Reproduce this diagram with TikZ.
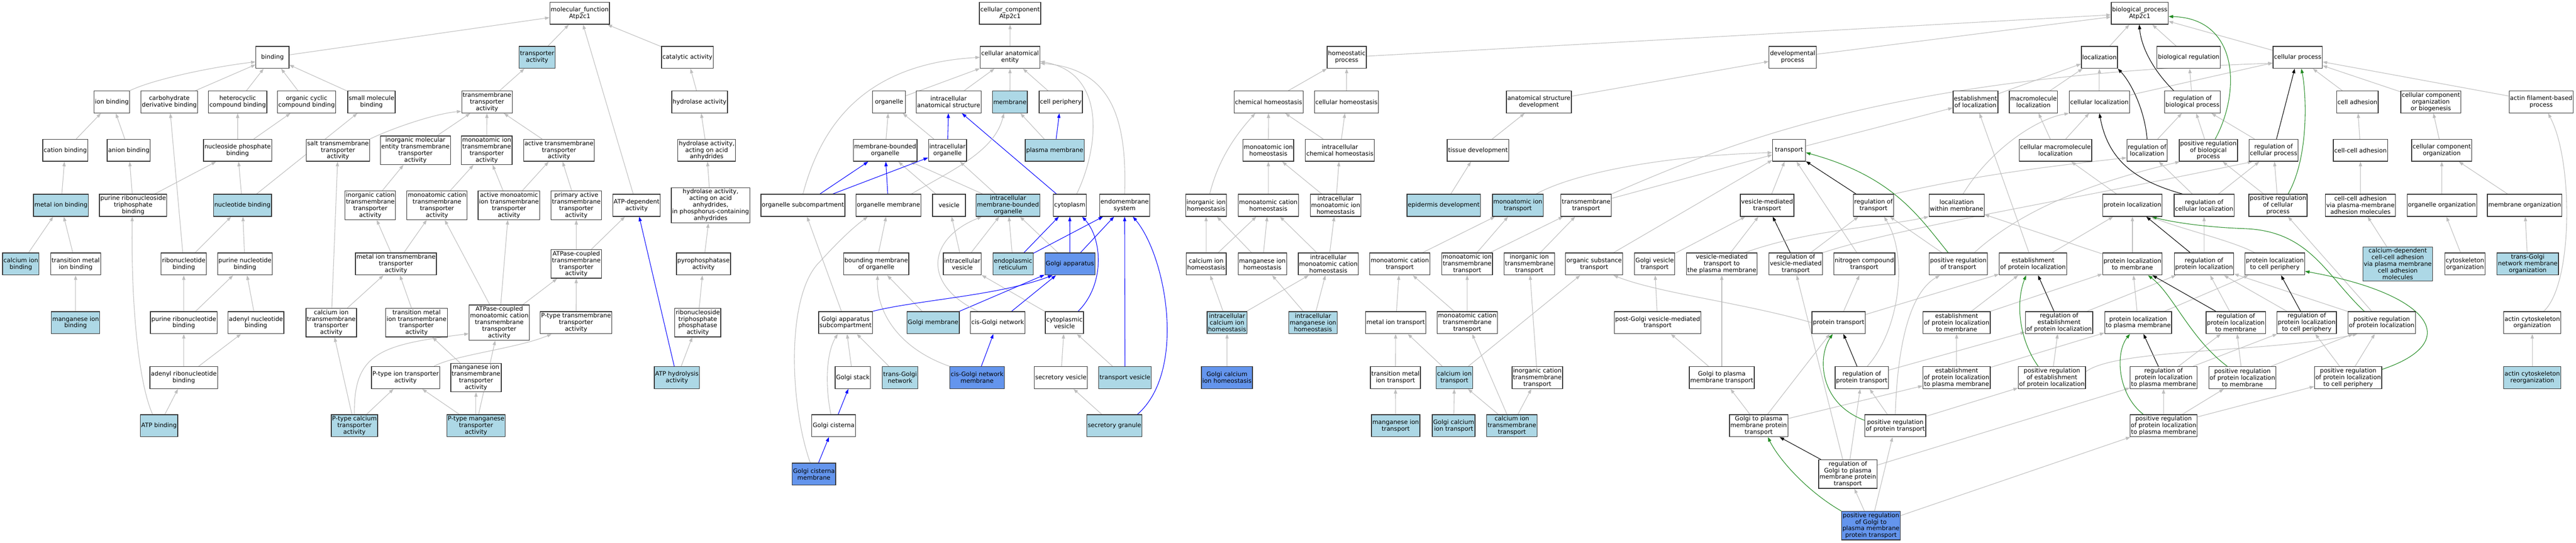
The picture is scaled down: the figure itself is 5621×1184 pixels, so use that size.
\documentclass[tikz,border=0pt]{standalone}
\usepackage{fontspec}
\setmainfont{DejaVu Sans}
\usetikzlibrary{arrows.meta}
\pgfdeclarelayer{bg}
\pgfsetlayers{bg,main}
\definecolor{lb}{HTML}{ADD8E6}
\definecolor{db}{HTML}{6495ED}
\definecolor{eg}{HTML}{BEBEBE}
\definecolor{gr}{HTML}{228B22}
\begin{document}
\begin{tikzpicture}[x=1pt,y=-1pt,
  nb/.style={draw=black!80, line width=1.5pt, fill=white, rectangle, minimum width=72pt, minimum height=48pt, inner xsep=2pt, inner ysep=3pt, align=center, font=\fontsize{13.2}{14.5}\selectfont},
  lbn/.style={nb, fill=lb},
  dbn/.style={nb, fill=db},
  ge/.style={draw=eg, line width=1.2pt, -{Triangle[length=10pt,width=7pt]}},
  be/.style={ge, draw=blue},
  ke/.style={ge, draw=black},
  gre/.style={ge, draw=gr}]
\useasboundingbox (0,0) rectangle (5621,1184);
% ---------------- molecular function
\node[nb] (mf) at (1265,29) {molecular\_function\\Atp2c1};
\node[nb] (bind) at (594.5,125) {binding};
\node[lbn] (ta) at (1172,125) {transporter\\activity};
\node[nb] (cat) at (1500,125) {catalytic activity};
\node[nb] (ionb) at (244,222.5) {ion binding};
\node[nb] (carb) at (369.5,222.5) {carbohydrate\\derivative binding};
\node[nb] (hetb) at (518.6,222.5) {heterocyclic\\compound binding};
\node[nb] (orgb) at (669,222.5) {organic cyclic\\compound binding};
\node[nb] (smb) at (810.6,222.5) {small molecule\\binding};
\node[nb] (tta) at (1062.6,222.5) {transmembrane\\transporter\\activity};
\node[nb] (hyd) at (1526.5,222.5) {hydrolase activity};
\node[nb] (catb) at (142.5,328) {cation binding};
\node[nb] (anb) at (281,328) {anion binding};
\node[nb] (npb) at (518.5,328) {nucleoside phosphate\\binding};
\node[nb] (salt) at (737.5,328) {salt transmembrane\\transporter\\activity};
\node[nb] (imet) at (906.5,328) {inorganic molecular\\entity transmembrane\\transporter\\activity};
\node[nb] (mitta) at (1062,328) {monoatomic ion\\transmembrane\\transporter\\activity};
\node[nb] (atta) at (1219.7,328) {active transmembrane\\transporter\\activity};
\node[nb] (hyda) at (1542,328) {hydrolase activity,\\acting on acid\\anhydrides};
\node[lbn] (mib) at (133,448) {metal ion binding};
\node[nb] (prtb) at (290.5,448) {purine ribonucleoside\\triphosphate\\binding};
\node[lbn] (ntb) at (529,448) {nucleotide binding};
\node[nb] (icta) at (808,448) {inorganic cation\\transmembrane\\transporter\\activity};
\node[nb] (mcta) at (953.5,448) {monoatomic cation\\transmembrane\\transporter\\activity};
\node[nb] (amita) at (1110.6,448) {active monoatomic\\ion transmembrane\\transporter\\activity};
\node[nb] (pata) at (1257.5,448) {primary active\\transmembrane\\transporter\\activity};
\node[nb] (atpd) at (1389,448) {ATP-dependent\\activity};
\node[nb] (hydp) at (1550.5,448) {hydrolase activity,\\acting on acid\\anhydrides,\\in phosphorus-containing\\anhydrides};
\node[nb] (osc) at (1752,448) {organelle subcompartment};
\node[lbn] (cab) at (45.5,576) {calcium ion\\binding};
\node[nb] (tmib) at (165,576) {transition metal\\ion binding};
\node[nb] (rnb) at (401,576) {ribonucleotide\\binding};
\node[nb] (pnb) at (534.5,576) {purine nucleotide\\binding};
\node[nb] (mitra) at (864,576) {metal ion transmembrane\\transporter\\activity};
\node[nb] (actta) at (1257.5,576) {ATPase-coupled\\transmembrane\\transporter\\activity};
\node[nb] (ppa) at (1535,576) {pyrophosphatase\\activity};
\node[lbn] (mnb) at (165,704) {manganese ion\\binding};
\node[nb] (prnb) at (401,704) {purine ribonucleotide\\binding};
\node[nb] (anb2) at (558.5,704) {adenyl nucleotide\\binding};
\node[nb] (cita) at (722.8,704) {calcium ion\\transmembrane\\transporter\\activity};
\node[nb] (tmita) at (909,704) {transition metal\\ion transmembrane\\transporter\\activity};
\node[nb] (amcta) at (1089.4,704) {ATPase-coupled\\monoatomic cation\\transmembrane\\transporter\\activity};
\node[nb] (ptta) at (1257,704) {P-type transmembrane\\transporter\\activity};
\node[nb] (rtpa) at (1522.6,704) {ribonucleoside\\triphosphate\\phosphatase\\activity};
\node[nb] (gas) at (1845,704) {Golgi apparatus\\subcompartment};
\node[nb] (arnb) at (401,824) {adenyl ribonucleotide\\binding};
\node[nb] (pita) at (885,824) {P-type ion transporter\\activity};
\node[nb] (mnta) at (1038.7,824) {manganese ion\\transmembrane\\transporter\\activity};
\node[lbn] (atph) at (1477,824) {ATP hydrolysis\\activity};
\node[nb] (gst) at (1861,824) {Golgi stack};
\node[lbn] (atpb) at (347,929) {ATP binding};
\node[lbn] (ptca) at (773.4,929) {P-type calcium\\transporter\\activity};
\node[lbn] (ptma) at (1038.7,929) {P-type manganese\\transporter\\activity};
\node[nb] (gc) at (1819,929) {Golgi cisterna};
\node[dbn] (gcm) at (1776,1034.5) {Golgi cisterna\\membrane};
% ---------------- cellular component
\node[nb] (cc) at (2204,29) {cellular\_component\\Atp2c1};
\node[nb] (cae) at (2204,125) {cellular anatomical\\entity};
\node[nb] (org) at (1940,222.5) {organelle};
\node[nb] (ias) at (2070,222.5) {intracellular\\anatomical structure};
\node[lbn] (mem) at (2203.6,222.5) {membrane};
\node[nb] (cper) at (2314.6,222.5) {cell periphery};
\node[nb] (mbo) at (1931.4,328) {membrane-bounded\\organelle};
\node[nb] (io) at (2067.5,328) {intracellular\\organelle};
\node[lbn] (pm) at (2301.5,328) {plasma membrane};
\node[nb] (om) at (1938.6,448) {organelle membrane};
\node[nb] (ves) at (2070.8,448) {vesicle};
\node[lbn] (imbo) at (2199.5,448) {intracellular\\membrane-bounded\\organelle};
\node[nb] (cyt) at (2334.3,448) {cytoplasm};
\node[nb] (ems) at (2454,448) {endomembrane\\system};
\node[nb] (bmo) at (1912,576) {bounding membrane\\of organelle};
\node[nb] (iv) at (2099.8,576) {intracellular\\vesicle};
\node[lbn] (er) at (2210.5,576) {endoplasmic\\reticulum};
\node[dbn] (ga) at (2334.6,576) {Golgi apparatus};
\node[lbn] (gm) at (2036,704) {Golgi membrane};
\node[nb] (cgn) at (2177,704) {cis-Golgi network};
\node[nb] (cv) at (2322.6,704) {cytoplasmic\\vesicle};
\node[lbn] (tgn) at (1964,824) {trans-Golgi\\network};
\node[dbn] (cgnm) at (2132,824) {cis-Golgi network\\membrane};
\node[nb] (sv) at (2314.8,824) {secretory vesicle};
\node[lbn] (tv) at (2454.8,824) {transport vesicle};
\node[lbn] (sg) at (2431.8,929) {secretory granule};
% ---------------- homeostasis / transport
\node[nb] (hp) at (2938.6,125) {homeostatic\\process};
\node[nb] (ch) at (2768,222.5) {chemical homeostasis};
\node[nb] (cho) at (2938,222.5) {cellular homeostasis};
\node[nb] (asd) at (3358,222.5) {anatomical structure\\development};
\node[nb] (mih) at (2767.6,328) {monoatomic ion\\homeostasis};
\node[nb] (ich) at (2923.7,328) {intracellular\\chemical homeostasis};
\node[nb] (td) at (3225,328) {tissue development};
\node[nb] (iih) at (2631.7,448) {inorganic ion\\homeostasis};
\node[nb] (mch) at (2767.5,448) {monoatomic cation\\homeostasis};
\node[nb] (imih) at (2914.4,448) {intracellular\\monoatomic ion\\homeostasis};
\node[lbn] (ed) at (3150.3,448) {epidermis development};
\node[lbn] (mit) at (3312,448) {monoatomic ion\\transport};
\node[nb] (tmt) at (3461,448) {transmembrane\\transport};
\node[nb] (cih) at (2632,576) {calcium ion\\homeostasis};
\node[nb] (mnh) at (2754.5,576) {manganese ion\\homeostasis};
\node[nb] (imch) at (2898.5,576) {intracellular\\monoatomic cation\\homeostasis};
\node[nb] (mct) at (3054.3,576) {monoatomic cation\\transport};
\node[nb] (mitt) at (3201.4,576) {monoatomic ion\\transmembrane\\transport};
\node[nb] (iitt) at (3337,576) {inorganic ion\\transmembrane\\transport};
\node[nb] (ost) at (3478.5,576) {organic substance\\transport};
\node[nb] (gvt) at (3610.5,576) {Golgi vesicle\\transport};
\node[lbn] (icih) at (2677.5,704) {intracellular\\calcium ion\\homeostasis};
\node[lbn] (imnh) at (2865,704) {intracellular\\manganese ion\\homeostasis};
\node[nb] (mtr) at (3045.4,704) {metal ion transport};
\node[nb] (mctt) at (3201.6,704) {monoatomic cation\\transmembrane\\transport};
\node[nb] (pgvt) at (3617,704) {post-Golgi vesicle-mediated\\transport};
\node[dbn] (gcih) at (2677.3,824) {Golgi calcium\\ion homeostasis};
\node[nb] (tmit) at (3045,824) {transition metal\\ion transport};
\node[lbn] (cit) at (3173.5,824) {calcium ion\\transport};
\node[nb] (ictt) at (3354.5,824) {inorganic cation\\transmembrane\\transport};
\node[lbn] (mnt) at (3045.4,929) {manganese ion\\transport};
\node[lbn] (gcit) at (3172,929) {Golgi calcium\\ion transport};
\node[lbn] (citt) at (3299,929) {calcium ion\\transmembrane\\transport};
% ---------------- biological process
\node[nb] (bp) at (4669,29) {biological\_process\\Atp2c1};
\node[nb] (dp) at (3911.6,125) {developmental\\process};
\node[nb] (loc) at (4581,125) {localization};
\node[nb] (breg) at (4775.8,125) {biological regulation};
\node[nb] (cp) at (5013.6,125) {cellular process};
\node[nb] (eol) at (4310.6,222.5) {establishment\\of localization};
\node[nb] (ml) at (4437,222.5) {macromolecule\\localization};
\node[nb] (cl) at (4581,222.5) {cellular localization};
\node[nb] (rbp) at (4784,222.5) {regulation of\\biological process};
\node[nb] (cad) at (5144,222.5) {cell adhesion};
\node[nb] (ccob) at (5304.3,222.5) {cellular component\\organization\\or biogenesis};
\node[nb] (afbp) at (5545,222.5) {actin filament-based\\process};
\node[nb] (tr) at (3903.8,328) {transport};
\node[nb] (cml) at (4485,328) {cellular macromolecule\\localization};
\node[nb] (rloc) at (4685,328) {regulation of\\localization};
\node[nb] (prbp) at (4818.7,328) {positive regulation\\of biological\\process};
\node[nb] (rcp) at (4961,328) {regulation of\\cellular process};
\node[nb] (cca) at (5150.7,328) {cell-cell adhesion};
\node[nb] (cco) at (5328,328) {cellular component\\organization};
\node[nb] (vmt) at (3856,448) {vesicle-mediated\\transport};
\node[nb] (rt) at (4088,448) {regulation of\\transport};
\node[nb] (lwm) at (4269.4,448) {localization\\within membrane};
\node[nb] (ploc) at (4653,448) {protein localization};
\node[nb] (rcl) at (4809.5,448) {regulation of\\cellular localization};
\node[nb] (prcp) at (4970.7,448) {positive regulation\\of cellular\\process};
\node[nb] (ccapm) at (5150.6,448) {cell-cell adhesion\\via plasma-membrane\\adhesion molecules};
\node[nb] (oo) at (5328.4,448) {organelle organization};
\node[nb] (mo) at (5509,448) {membrane organization};
\node[nb] (vmtpm) at (3757,576) {vesicle-mediated\\transport to\\the plasma membrane};
\node[nb] (rvmt) at (3918.4,576) {regulation of\\vesicle-mediated\\transport};
\node[nb] (nct) at (4068,576) {nitrogen compound\\transport};
\node[nb] (prt) at (4273,576) {positive regulation\\of transport};
\node[nb] (epl) at (4436,576) {establishment\\of protein localization};
\node[nb] (plm) at (4653,576) {protein localization\\to membrane};
\node[nb] (rpl) at (4809.3,576) {regulation of\\protein localization};
\node[nb] (pl2cp) at (4963.8,576) {protein localization\\to cell periphery};
\node[lbn] (cdca) at (5232,576) {calcium-dependent\\cell-cell adhesion\\via plasma membrane\\cell adhesion\\molecules};
\node[nb] (cso) at (5378.7,576) {cytoskeleton\\organization};
\node[lbn] (tgnmo) at (5515.7,576) {trans-Golgi\\network membrane\\organization};
\node[nb] (pt) at (4012,704) {protein transport};
\node[nb] (eplm) at (4269.4,704) {establishment\\of protein localization\\to membrane};
\node[nb] (repl) at (4493,704) {regulation of\\establishment\\of protein localization};
\node[nb] (plpm) at (4665.6,704) {protein localization\\to plasma membrane};
\node[nb] (rplm) at (4878.6,704) {regulation of\\protein localization\\to membrane};
\node[nb] (rplcp) at (5033.4,704) {regulation of\\protein localization\\to cell periphery};
\node[nb] (prpl) at (5197,704) {positive regulation\\of protein localization};
\node[nb] (aco) at (5525.5,704) {actin cytoskeleton\\organization};
\node[nb] (gpmt) at (3757,824) {Golgi to plasma\\membrane transport};
\node[nb] (rpt) at (4062.5,824) {regulation of\\protein transport};
\node[nb] (eplpm) at (4269.4,824) {establishment\\of protein localization\\to plasma membrane};
\node[nb] (prepl) at (4477.4,824) {positive regulation\\of establishment\\of protein localization};
\node[nb] (rplpm) at (4721,824) {regulation of\\protein localization\\to plasma membrane};
\node[nb] (prplm) at (4893,824) {positive regulation\\of protein localization\\to membrane};
\node[nb] (prplcp) at (5123.8,824) {positive regulation\\of protein localization\\to cell periphery};
\node[lbn] (acr) at (5525.5,824) {actin cytoskeleton\\reorganization};
\node[nb] (gpmpt) at (3837.5,929) {Golgi to plasma\\membrane protein\\transport};
\node[nb] (prpt) at (4135.6,929) {positive regulation\\of protein transport};
\node[nb] (prplpm) at (4721,929) {positive regulation\\of protein localization\\to plasma membrane};
\node[nb] (rgpm) at (4032,1034.5) {regulation of\\Golgi to plasma\\membrane protein\\transport};
\node[dbn] (prgpm) at (4082.6,1147) {positive regulation\\of Golgi to\\plasma membrane\\protein transport};
% ---------------- edges
\begin{pgfonlayer}{bg}
\fill[white] (0,0) rectangle (5621,1184);
\foreach \a/\b in {bind/mf, carb/bind, hetb/bind, orgb/bind, smb/bind, catb/ionb, anb/ionb, rnb/carb, npb/hetb, npb/orgb, ntb/smb, mib/catb, prtb/anb, prtb/npb, ntb/npb, imet/tta, cab/mib, tmib/mib, rnb/ntb, pnb/ntb, icta/imet, mitra/icta, mitra/mcta, cita/salt, mnb/tmib, prnb/rnb, prnb/pnb, anb2/pnb, arnb/prnb, arnb/anb2, atpb/arnb, cita/mitra, tmita/mitra, ptca/cita, ptca/pita, ptma/pita, ta/mf, atpd/mf, cat/mf, tta/ta, hyd/cat, mitta/tta, atta/tta, hyda/hyd, mcta/mitta, amita/mitta, amita/atta, pata/atta, hydp/hyda, actta/pata, actta/atpd, ppa/hydp, amcta/mcta, amcta/amita, amcta/actta, ptta/actta, ptma/amcta, mnta/tmita, ptma/mnta, rtpa/ppa, atph/rtpa}
  \draw[ge] (\a) -- (\b);
\foreach \a/\b in {cae/cc, org/cae, ias/cae, mem/cae, cper/cae, mbo/org, io/org, pm/mem, ves/mbo, imbo/mbo, imbo/io, bmo/om, iv/ves, iv/imbo, er/imbo, ga/imbo, gm/bmo, cv/iv, gst/gas, tgn/gas, sv/cv, tv/cv, sg/sv, gas/osc}
  \draw[ge] (\a) -- (\b);
\foreach \a/\b in {ch/hp, cho/hp, mih/ch, ich/ch, ich/cho, mch/mih, imih/mih, imih/ich, cih/iih, cih/mch, mnh/iih, mnh/mch, imch/mch, imch/imih, icih/cih, icih/imch, imnh/mnh, imnh/imch, gcih/icih, hp/bp, dp/bp, asd/dp, td/asd, ed/td}
  \draw[ge] (\a) -- (\b);
\foreach \a/\b in {tmt/tr, ost/tr, gvt/vmt, mct/mit, mitt/mit, mitt/tmt, iitt/tmt, mtr/mct, mctt/mct, mctt/mitt, cit/ost, ictt/iitt, pgvt/gvt, tmit/mtr, cit/mtr, mnt/tmit, gcit/cit, citt/cit, citt/mctt, citt/ictt, gpmt/pgvt, gpmt/vmtpm}
  \draw[ge] (\a) -- (\b);
\foreach \a/\b in {loc/bp, eol/loc, ml/loc, cl/loc, tr/eol, cml/ml, cml/cl, ploc/cml, vmt/tr, nct/tr, prt/rt, epl/eol, epl/ploc, plm/ploc, plm/lwm, vmtpm/vmt, rvmt/rt, pt/nct, pt/epl, eplm/epl, eplm/plm, repl/rpl, rpt/repl, eplpm/eplm, eplpm/plpm, prepl/repl, gpmpt/gpmt, gpmpt/pt, gpmpt/eplpm, prpt/rpt, prpt/prepl, rgpm/rpt, rgpm/rplpm, prgpm/rgpm, prgpm/prpt, prgpm/prplpm, plpm/plm, plpm/pl2cp, breg/bp, cp/bp, rbp/breg, rloc/rbp, prbp/rbp, rcp/rbp, cad/cp, ccob/cp, afbp/cp, cca/cad, cco/ccob, rcl/rloc, rcl/rcp, prcp/prbp, prcp/rcp, ccapm/cca, oo/cco, mo/cco, rpl/rcl, cdca/ccapm, cso/oo, tgnmo/mo, prpl/prcp, acr/aco, rplm/rpl, rplcp/rpl, prpl/rpl, rplpm/rplm, rplpm/rplcp, prplm/rplm, prplm/prpl, prplcp/rplcp, prplcp/prpl, prplpm/rplpm, prplpm/prplm, prplpm/prplcp, cl/cp}
  \draw[ge] (\a) -- (\b);
\foreach \a/\b in {atph/atpd, io/ias, cyt/ias, pm/cper, om/mbo, osc/mbo, osc/io, er/cyt, er/ems, ga/cyt, ga/ems, tv/ems, gm/ga, cgn/ga, cgnm/cgn, gc/gst, gcm/gc}
  \draw[be] (\a) -- (\b);
\foreach \a/\b in {rt/tr, rvmt/vmt, rcp/cp, rpt/pt, repl/epl, rgpm/gpmpt, rpl/ploc, rplm/plm, rplcp/pl2cp, rplpm/plpm}
  \draw[ke] (\a) -- (\b);
% curved gray
\draw[ge] (ionb.north east) .. controls (330,175) and (450,148) .. (bind.195);
\draw[ge] (salt.north east) .. controls (860,278) and (950,248) .. (tta.200);
\draw[ge] (ptca.north) .. controls (771,770) and (830,752) .. (amcta.200);
\draw[ge] ([shift={(62,0)}]pita.north) .. controls (990,775) and (1130,760) .. ([shift={(-53,0)}]ptta.south);
\draw[ge] ([shift={(-14,0)}]atpb.north) .. controls (300,830) and (286,650) .. ([shift={(-2,0)}]prtb.south);
\draw[ge] (osc.north) .. controls (1790,280) and (1880,140) .. (cae.west);
\draw[ge] ([shift={(15,0)}]cyt.north) .. controls (2395,330) and (2420,160) .. ([shift={(0,9)}]cae.east);
\draw[ge] (ems.north) .. controls (2460,250) and (2420,150) .. ([shift={(0,13)}]cae.east);
\draw[ge] ([shift={(50,0)}]om.north) .. controls (2080,370) and (2170,330) .. ([shift={(-13,0)}]mem.south);
\draw[ge] ([shift={(-43,0)}]cgn.north) .. controls (2010,620) and (2025,520) .. ([shift={(-57,0)}]imbo.south);
\draw[ge] (cgnm.north west) .. controls (1960,760) and (1912,680) .. ([shift={(3,0)}]bmo.south);
\draw[ge] ([shift={(-8,0)}]gcm.north) .. controls (1722,880) and (1715,640) .. (1790,570) .. controls (1840,515) and (1870,490) .. ([shift={(-45,0)}]om.south);
\draw[ge] ([shift={(-6,0)}]gc.north) .. controls (1800,840) and (1803,770) .. ([shift={(-17,0)}]gas.south);
\draw[ge] ([shift={(8,0)}]iih.north) .. controls (2660,340) and (2705,285) .. ([shift={(-29,0)}]ch.south);
\draw[ge] ([shift={(40,0)}]mit.north) .. controls (3430,380) and (3620,340) .. ([shift={(0,5)}]tr.west);
\draw[ge] (tmt.north east) .. controls (3800,300) and (4150,165) .. ([shift={(0,13)}]cp.west);
\draw[ge] (rt.north east) .. controls (4300,385) and (4450,365) .. (rloc.200);
\draw[ge] ([shift={(14,0)}]lwm.north) .. controls (4340,330) and (4440,260) .. (cl.south west);
\draw[ge] ([shift={(50,0)}]vmtpm.north) .. controls (3950,500) and (4110,495) .. (lwm.south west);
\draw[ge] (rvmt.north east) .. controls (4150,495) and (4500,440) .. ([shift={(8,0)}]rcp.south west);
\draw[ge] ([shift={(35,0)}]prt.north) .. controls (4420,450) and (4580,395) .. ([shift={(2,0)}]prbp.south west);
\draw[ge] ([shift={(12,0)}]rpt.north) .. controls (4145,720) and (4165,560) .. ([shift={(23,0)}]rt.south);
\draw[ge] (prpt.north) .. controls (4140,760) and (4165,640) .. ([shift={(-40,0)}]prt.south);
\draw[ge] ([shift={(-44,0)}]pl2cp.north) .. controls (4870,525) and (4760,500) .. ([shift={(40,0)}]ploc.south);
\draw[ge] (prepl.10) .. controls (4620,760) and (4950,770) .. ([shift={(-53,0)}]prpl.south);
\draw[ge] ([shift={(25,0)}]aco.north) .. controls (5615,620) and (5615,350) .. ([shift={(15,0)}]afbp.south);
\draw[ge] (pt.west) .. controls (3800,660) and (3620,640) .. ([shift={(42,0)}]ost.south);
\draw[ge] ([shift={(-11,0)}]rgpm.north) -- ([shift={(2,0)}]rvmt.south);
% curved blue
\draw[be] (gas.north east) .. controls (2000,655) and (2180,645) .. ([shift={(-38,0)}]ga.south);
\draw[be] ([shift={(30,0)}]cv.north) .. controls (2412,620) and (2405,520) .. ([shift={(27,0)}]cyt.south);
\draw[be] ([shift={(50,0)}]sg.north) .. controls (2590,810) and (2545,560) .. ([shift={(18,0)}]ems.south);
% curved black
\draw[ke] (rloc.north) .. controls (4680,240) and (4650,180) .. (loc.south east);
\draw[ke] ([shift={(-47,0)}]rcl.north) .. controls (4660,395) and (4600,350) .. (cl.south);
\draw[ke] ([shift={(-41,0)}]rbp.north) .. controls (4695,150) and (4672,100) .. ([shift={(-1,0)}]bp.south);
% curved green
\draw[gre] ([shift={(-22,0)}]prt.north) .. controls (4185,470) and (4130,385) .. ([shift={(0,5)}]tr.east);
\draw[gre] ([shift={(15,0)}]prbp.north) .. controls (4890,200) and (4885,40) .. ([shift={(0,7)}]bp.east);
\draw[gre] ([shift={(22,0)}]prcp.north) .. controls (5040,340) and (5032,200) .. ([shift={(8,0)}]cp.south);
\draw[gre] (prpt.170) .. controls (3970,880) and (3965,780) .. ([shift={(-13,0)}]pt.south);
\draw[gre] (prgpm.north west) .. controls (3940,1070) and (3880,1000) .. ([shift={(20,0)}]gpmpt.south);
\draw[gre] ([shift={(-30,0)}]prepl.north) .. controls (4405,740) and (4398,660) .. ([shift={(-15,0)}]epl.south);
\draw[gre] ([shift={(-38,0)}]prpl.north) .. controls (5075,600) and (5040,505) .. (4900,499) .. controls (4790,495) and (4720,480) .. ([shift={(43,0)}]ploc.south);
\draw[gre] ([shift={(-33,0)}]prplm.north) .. controls (4780,740) and (4740,640) .. ([shift={(34,0)}]plm.south);
\draw[gre] ([shift={(0,-18)}]prplcp.east) .. controls (5380,745) and (5300,640) .. ([shift={(0,16)}]pl2cp.east);
\draw[gre] ([shift={(-44,0)}]prplpm.north) .. controls (4620,860) and (4615,770) .. ([shift={(-18,0)}]plpm.south);
\end{pgfonlayer}
\end{tikzpicture}
\end{document}
